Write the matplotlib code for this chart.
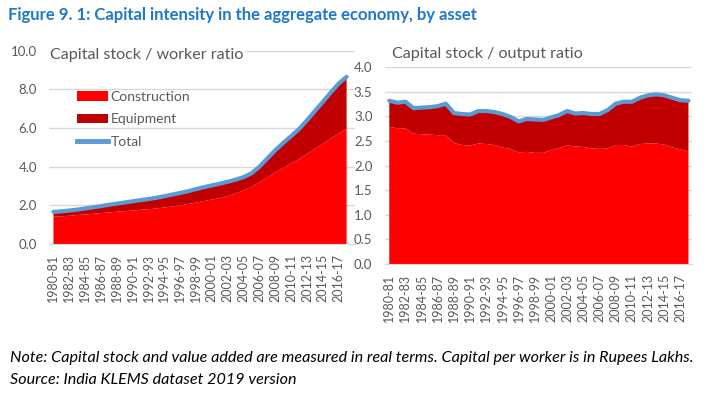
import numpy as np
import matplotlib
matplotlib.use("Agg")
import matplotlib.pyplot as plt
from matplotlib.patches import Patch
from matplotlib.lines import Line2D

plt.rcParams['font.family'] = ['Lato', 'DejaVu Sans']

years = [f"{y}-{(y + 1) % 100:02d}" for y in range(1980, 2018)]

# capital stock per worker (Rs lakh)
kl_construction = [1.41, 1.43, 1.46, 1.50, 1.53, 1.56, 1.60, 1.63, 1.67, 1.70,
                   1.73, 1.77, 1.80, 1.84, 1.89, 1.94, 2.00, 2.07, 2.14, 2.22,
                   2.30, 2.38, 2.48, 2.62, 2.78, 2.95, 3.20, 3.45, 3.70, 3.93,
                   4.17, 4.40, 4.65, 4.92, 5.18, 5.45, 5.72, 5.97]
kl_total = [1.66, 1.69, 1.73, 1.78, 1.84, 1.90, 1.96, 2.03, 2.09, 2.15,
            2.21, 2.27, 2.33, 2.39, 2.47, 2.56, 2.64, 2.73, 2.84, 2.94,
            3.03, 3.12, 3.22, 3.33, 3.46, 3.66, 4.00, 4.43, 4.85, 5.23,
            5.58, 5.95, 6.40, 6.88, 7.35, 7.84, 8.30, 8.65]

# capital stock / output
ky_construction = [2.79, 2.76, 2.76, 2.65, 2.64, 2.63, 2.62, 2.62, 2.46, 2.42,
                   2.41, 2.45, 2.44, 2.42, 2.37, 2.34, 2.27, 2.28, 2.26, 2.26,
                   2.31, 2.36, 2.41, 2.39, 2.38, 2.35, 2.34, 2.35, 2.42, 2.42,
                   2.39, 2.44, 2.45, 2.45, 2.43, 2.37, 2.33, 2.29]
ky_total = [3.32, 3.28, 3.30, 3.17, 3.18, 3.19, 3.21, 3.26, 3.07, 3.05,
            3.04, 3.11, 3.11, 3.09, 3.05, 2.99, 2.90, 2.95, 2.94, 2.93,
            2.98, 3.03, 3.11, 3.06, 3.07, 3.05, 3.05, 3.13, 3.26, 3.30,
            3.30, 3.38, 3.43, 3.45, 3.43, 3.38, 3.33, 3.32]

RED = '#FF0000'
DARKRED = '#C00000'
BLUE = '#5B9BD5'
GREY = '#595959'
GRID = '#D9D9D9'

W, H = 708, 398
fig = plt.figure(figsize=(W / 100, H / 100), dpi=100)


def px_axes(x0, y0, x1, y1):
    return fig.add_axes([x0 / W, 1 - y1 / H, (x1 - x0) / W, (y1 - y0) / H])


def panel(ax, constr, total, ymax, ystep, xlim):
    x = np.arange(len(years))
    equip = np.array(total) - np.array(constr)
    ax.stackplot(x, constr, equip, colors=[RED, DARKRED], zorder=2)
    ax.plot(x, total, color=BLUE, lw=3, zorder=3, solid_capstyle='round')
    ax.set_xlim(*xlim)
    ax.set_ylim(0, ymax)
    ticks = np.arange(0, ymax + ystep / 2, ystep)
    ax.set_yticks(ticks)
    ax.set_yticklabels([f"{v:.1f}" for v in ticks])
    ax.set_xticks(x[::2])
    ax.set_xticklabels(years[::2], rotation=90)
    ax.grid(axis='y', color=GRID, lw=1, zorder=0)
    for s in ['top', 'right', 'left']:
        ax.spines[s].set_visible(False)
    ax.spines['bottom'].set_color(GRID)
    ax.tick_params(axis='both', length=0, colors=GREY, labelsize=9.5)
    ax.tick_params(axis='x', pad=7, labelsize=9)
    ax.tick_params(axis='y', pad=9)
    ax.set_axisbelow(True)


ax1 = px_axes(49.5, 50.7, 354.5, 244)
panel(ax1, kl_construction, kl_total, 10, 2, (-0.5, 38.0))
ax2 = px_axes(385, 67.3, 691.7, 264)
panel(ax2, ky_construction, ky_total, 4.0, 0.5, (-0.53, 37.4))

fig.text(50 / W, 1 - 55 / H, "Capital stock / worker ratio", fontsize=11.6,
         color=GREY, va='center', ha='left',
         bbox=dict(facecolor='white', edgecolor='none', pad=1))
fig.text(392 / W, 1 - 54 / H, "Capital stock / output ratio", fontsize=11.6,
         color=GREY, va='center', ha='left')

handles = [Patch(facecolor=RED), Patch(facecolor=DARKRED),
           Line2D([0], [0], color=BLUE, lw=3.5)]
ax1.legend(handles, ['Construction', 'Equipment', 'Total'], frameon=False,
           loc='upper left', bbox_to_anchor=(77 / W, 1 - 91 / H),
           bbox_transform=fig.transFigure, fontsize=10, handlelength=2.2,
           handleheight=0.7, handletextpad=0.2, labelspacing=0.75,
           labelcolor=GREY, borderaxespad=0, borderpad=0)

fig.text(8 / W, 1 - 15 / H,
         "Figure 9. 1: Capital intensity in the aggregate economy, by asset",
         fontsize=12, fontweight='bold', color='#1F78C8', va='center', ha='left')

fig.text(10 / W, 1 - 358 / H,
         "Note: Capital stock and value added are measured in real terms. "
         "Capital per worker is in Rupees Lakhs.",
         fontsize=11.6, style='italic', color='black', va='center', ha='left')
fig.text(10 / W, 1 - 380 / H, "Source: India KLEMS dataset 2019 version",
         fontsize=11.6, style='italic', color='black', va='center', ha='left')

fig.savefig("out.png", dpi=100)
